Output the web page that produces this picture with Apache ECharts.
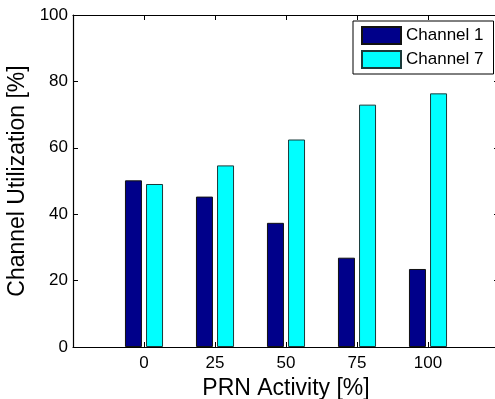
<!DOCTYPE html>
<html>
<head>
<meta charset="utf-8">
<script src="https://cdn.jsdelivr.net/npm/echarts@6/dist/echarts.min.js"></script>
<style>
  html, body {margin: 0; padding: 0; background: #fff;}
  #chart {width: 495px; height: 399px;}
</style>
</head>
<body>
<div id="chart"></div>
<script>
const activity = [0, 25, 50, 75, 100];
const channel1 = [50.2, 45.3, 37.4, 26.9, 23.5];
const channel7 = [49.1, 54.7, 62.5, 73.0, 76.4];
const yTicks = [0, 20, 40, 60, 80, 100];

const font = 'Liberation Sans';
const tick = {show: true, inside: true, length: 5, lineStyle: {color: '#000'}};
const line = {show: true, onZero: false, lineStyle: {color: '#000', width: 1.2}};

const myChart = echarts.init(document.getElementById('chart'));

const toPoints = vals => vals.map((v, i) => [activity[i], v]);

myChart.setOption({
  animation: false,
  textStyle: {fontFamily: font},
  grid: {left: 73, top: 15, width: 426, height: 332, outerBoundsMode: 'none', containLabel: false},
  legend: {
    orient: 'vertical',
    left: 353,
    top: 21,
    padding: [5, 10, 5, 8],
    itemWidth: 39,
    itemHeight: 17,
    itemGap: 5,
    icon: 'rect',
    borderColor: '#000',
    borderWidth: 1,
    borderRadius: 0,
    backgroundColor: '#fff',
    textStyle: {fontFamily: font, fontSize: 17, color: '#000'},
    data: ['Channel 1', 'Channel 7']
  },
  xAxis: [{
    type: 'value',
    min: -25,
    max: 125,
    interval: 25,
    name: 'PRN Activity [%]',
    nameLocation: 'middle',
    nameGap: 23,
    nameTextStyle: {fontFamily: font, fontSize: 23, color: '#000'},
    axisLine: line,
    axisTick: tick,
    splitLine: {show: false},
    axisLabel: {
      fontFamily: font, fontSize: 17, color: '#000', margin: 8,
      formatter: v => activity.indexOf(v) >= 0 ? String(v) : ''
    }
  }, {
    type: 'value',
    position: 'top',
    min: -25,
    max: 125,
    interval: 25,
    axisLine: line,
    axisTick: tick,
    splitLine: {show: false},
    axisLabel: {show: false}
  }],
  yAxis: [{
    type: 'value',
    min: 0,
    max: 100,
    interval: 20,
    name: 'Channel Utilization [%]',
    nameLocation: 'middle',
    nameGap: 41,
    nameTextStyle: {fontFamily: font, fontSize: 23, color: '#000'},
    axisLine: line,
    axisTick: tick,
    splitLine: {show: false},
    axisLabel: {
      fontFamily: font, fontSize: 17, color: '#000', margin: 5,
      formatter: v => yTicks.indexOf(v) >= 0 ? String(v) : ''
    }
  }, {
    type: 'value',
    position: 'right',
    min: 0,
    max: 100,
    interval: 20,
    axisLine: line,
    axisTick: tick,
    splitLine: {show: false},
    axisLabel: {show: false}
  }],
  series: [{
    name: 'Channel 1',
    type: 'bar',
    xAxisIndex: 0,
    yAxisIndex: 0,
    barWidth: 17,
    barGap: '24%',
    data: toPoints(channel1),
    itemStyle: {color: '#00008a', borderColor: '#111', borderWidth: 1}
  }, {
    name: 'Channel 7',
    type: 'bar',
    xAxisIndex: 0,
    yAxisIndex: 0,
    barWidth: 17,
    barGap: '24%',
    data: toPoints(channel7),
    itemStyle: {color: '#00ffff', borderColor: '#1a3a3a', borderWidth: 1}
  }]
});
</script>
</body>
</html>
